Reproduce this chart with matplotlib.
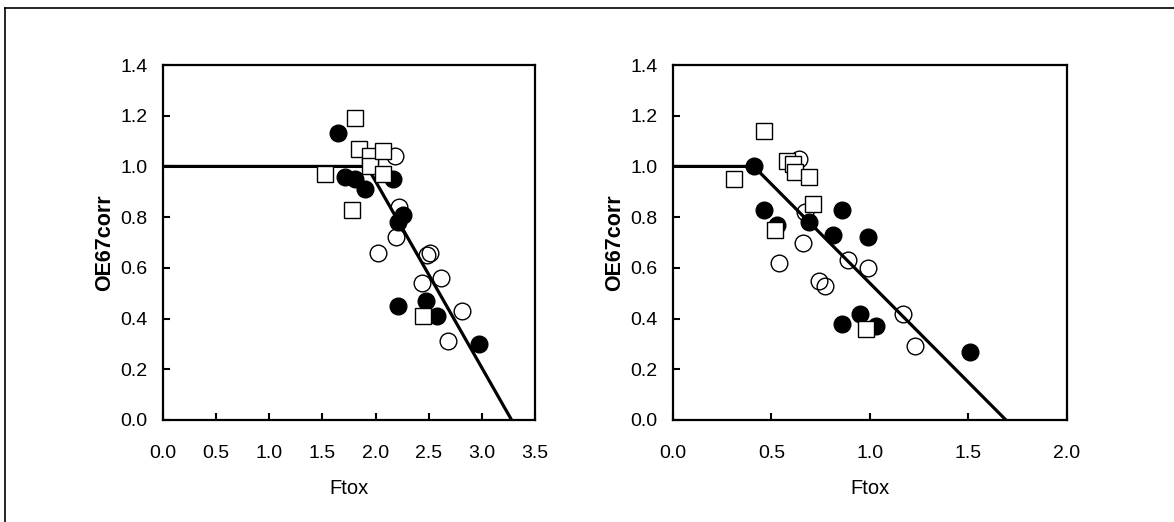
import matplotlib
matplotlib.use('Agg')
import matplotlib.pyplot as plt
from matplotlib.lines import Line2D

plt.rcParams['font.family'] = ['Liberation Sans', 'DejaVu Sans']

# painel esquerdo
l_fill_x = [1.65, 1.71, 1.81, 1.90, 2.16, 2.26, 2.21, 2.21, 2.47, 2.58, 2.97]
l_fill_y = [1.13, 0.96, 0.95, 0.91, 0.95, 0.81, 0.78, 0.45, 0.47, 0.41, 0.30]
l_open_x = [2.18, 2.22, 2.19, 2.02, 2.48, 2.51, 2.62, 2.44, 2.81, 2.68]
l_open_y = [1.04, 0.84, 0.72, 0.66, 0.65, 0.66, 0.56, 0.54, 0.43, 0.31]
l_sq_x = [1.81, 1.84, 1.95, 1.95, 2.07, 2.07, 1.52, 1.78, 2.45]
l_sq_y = [1.19, 1.07, 1.04, 1.00, 1.06, 0.97, 0.97, 0.83, 0.41]
l_fit_x = [0.0, 1.92, 3.28]
l_fit_y = [1.0, 1.0, 0.0]

# painel direito
r_fill_x = [0.41, 0.46, 0.53, 0.69, 0.86, 0.81, 0.99, 0.86, 0.95, 1.03, 1.51]
r_fill_y = [1.00, 0.83, 0.77, 0.78, 0.83, 0.73, 0.72, 0.38, 0.42, 0.37, 0.27]
r_open_x = [0.64, 0.67, 0.66, 0.54, 0.89, 0.99, 0.74, 0.77, 1.17, 1.23]
r_open_y = [1.03, 0.82, 0.70, 0.62, 0.63, 0.60, 0.55, 0.53, 0.42, 0.29]
r_sq_x = [0.46, 0.31, 0.58, 0.61, 0.62, 0.69, 0.71, 0.52, 0.98]
r_sq_y = [1.14, 0.95, 1.02, 1.01, 0.98, 0.96, 0.85, 0.75, 0.36]
r_fit_x = [0.0, 0.41, 1.69]
r_fit_y = [1.0, 1.0, 0.0]

W, H = 1174, 522
fig = plt.figure(figsize=(W / 100, H / 100), dpi=100)

# moldura (só topo e lado esquerdo aparecem)
fig.add_artist(Line2D([5 / W, 1.0], [1 - 8 / H, 1 - 8 / H], color='black', lw=1.2))
fig.add_artist(Line2D([5 / W, 5 / W], [0.0, 1 - 8 / H], color='black', lw=1.2))


def painel(rect, fx, fy, ox, oy, sx, sy, linx, liny, xmax, xticks):
    ax = fig.add_axes(rect)
    ax.plot(linx, liny, color='black', lw=2.3, zorder=2, solid_capstyle='butt')
    ax.plot(ox, oy, 'o', ms=12, mfc='none', mec='black', mew=1.0, zorder=3)
    ax.plot(fx, fy, 'o', ms=12, mfc='black', mec='black', mew=1.0, zorder=4)
    ax.plot(sx, sy, 's', ms=11.5, mfc='white', mec='black', mew=1.0, zorder=5)
    ax.set_xlim(0, xmax)
    ax.set_ylim(0, 1.4)
    ax.set_xticks(xticks)
    ax.set_yticks([0.0, 0.2, 0.4, 0.6, 0.8, 1.0, 1.2, 1.4])
    ax.xaxis.set_major_formatter(plt.FormatStrFormatter('%.1f'))
    ax.yaxis.set_major_formatter(plt.FormatStrFormatter('%.1f'))
    ax.tick_params(axis='x', direction='in', length=5, width=1.5, pad=18, labelsize=14)
    ax.tick_params(axis='y', direction='in', length=5, width=1.5, pad=11, labelsize=14)
    for s in ax.spines.values():
        s.set_linewidth(1.6)
    ax.set_xlabel('Ftox', fontsize=14.5, labelpad=12)
    ax.set_ylabel('OE67corr', fontsize=15.5, fontweight='bold', labelpad=4)
    return ax


ybot = 1 - 420 / H
yh = 355 / H
painel([163 / W, ybot, 372 / W, yh], l_fill_x, l_fill_y, l_open_x, l_open_y,
       l_sq_x, l_sq_y, l_fit_x, l_fit_y, 3.5, [0, 0.5, 1, 1.5, 2, 2.5, 3, 3.5])
painel([673 / W, ybot, 394 / W, yh], r_fill_x, r_fill_y, r_open_x, r_open_y,
       r_sq_x, r_sq_y, r_fit_x, r_fit_y, 2.0, [0, 0.5, 1, 1.5, 2])

fig.savefig('out.png', dpi=100)
